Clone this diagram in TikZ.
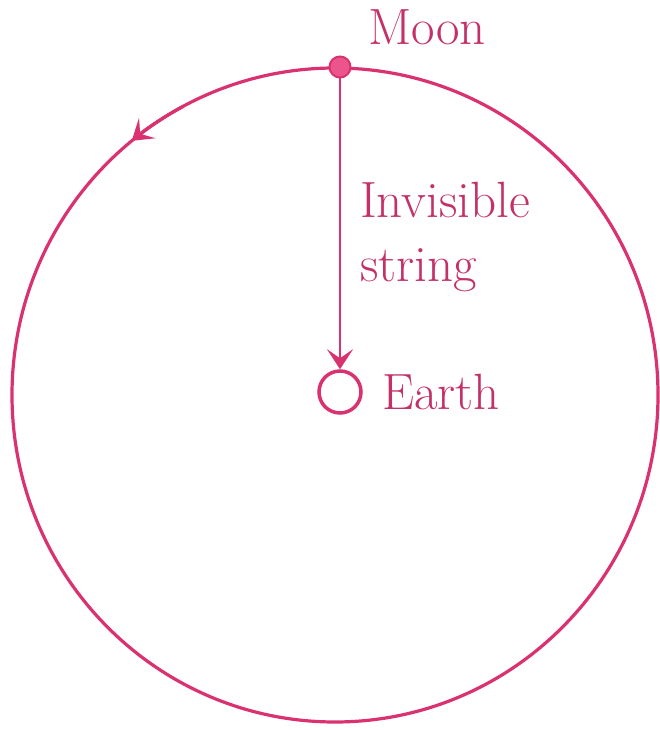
\documentclass[tikz,border=0pt]{standalone}
\usetikzlibrary{arrows.meta}
\definecolor{pk}{RGB}{218,50,112}
\definecolor{pktext}{RGB}{196,48,104}
\definecolor{pkfill}{RGB}{236,84,140}
\begin{document}
\begin{tikzpicture}[x=1pt,y=1pt,
  orbit/.style={draw=pk,line width=3.2pt},
  lbl/.style={text=pktext,font=\fontsize{51}{64}\selectfont,inner sep=0pt,anchor=base west},
  tip/.style={-{Stealth[length=20pt,width=26pt,inset=9pt]}}]
\useasboundingbox (0,0) rectangle (660,730);
\coordinate (c) at (335,335);
\draw[orbit] (c) ellipse [x radius=323pt, y radius=327pt];
\draw[orbit,tip] (c) ++(118:323pt and 327pt) arc[start angle=118, end angle=129, x radius=323pt, y radius=327pt];
\node[circle,draw=pk,line width=2pt,fill=pkfill,minimum size=21pt,inner sep=0pt] (moon) at (340,663) {};
\node[circle,draw=pk,line width=3.5pt,fill=white,minimum size=42pt,inner sep=0pt] (earth) at (340,338) {};
\draw[orbit,line width=2.8pt,tip] (moon.south) -- (earth.north);
\node[lbl] (moonl) at (368,685) {Moon};
\node[lbl] (inv) at (360,512) {Invisible};
\node[lbl] (str) at (360,448) {string};
\node[lbl] (earthl) at (382,320) {Earth};
\end{tikzpicture}
\end{document}
